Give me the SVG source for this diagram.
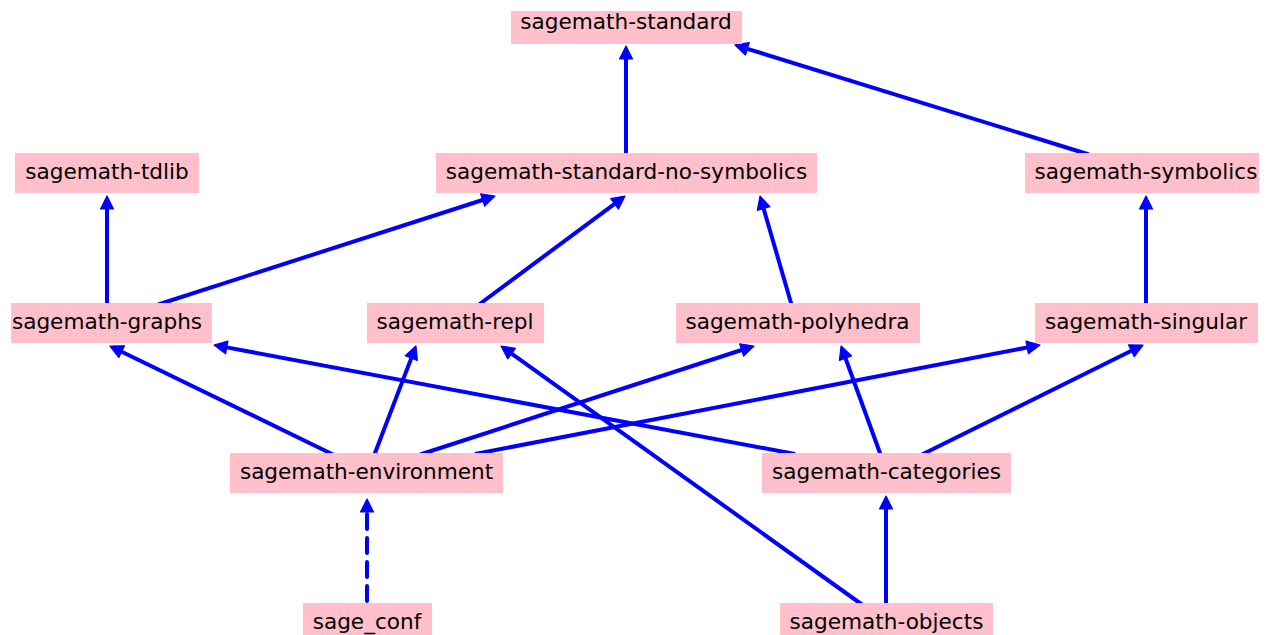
<svg xmlns="http://www.w3.org/2000/svg" width="1270" height="635" viewBox="0 0 1270 635">
<style>
.box{fill:#ffc0cb;stroke:none}
.lbl{font-family:"DejaVu Sans","Noto Sans",sans-serif;font-size:21.6px;fill:#000;text-anchor:middle}
.e{stroke:#0000ff;stroke-width:4;fill:none;marker-end:url(#ah)}
.d{stroke-dasharray:15 9;stroke-linecap:round}
</style>
<defs>
<marker id="ah" markerUnits="userSpaceOnUse" markerWidth="30" markerHeight="30" refX="0" refY="0" orient="auto" overflow="visible" viewBox="-15 -15 30 30">
<path d="M0,-6.5 L13,0 L0,6.5 Z" fill="#0000ff" stroke="#0000ff" stroke-width="1.2" stroke-linejoin="round"/>
</marker>
</defs>
<rect width="1270" height="635" fill="#ffffff"/>
<g id="connectors">
<line class="e" x1="626" y1="160" x2="626" y2="59"/>
<line class="e" x1="1089" y1="154.5" x2="747.4" y2="48.8"/>
<line class="e" x1="107" y1="310" x2="107" y2="209"/>
<line class="e" x1="158.2" y1="304.5" x2="482.6" y2="200"/>
<line class="e" x1="477" y1="306" x2="614.6" y2="203.8"/>
<line class="e" x1="792.4" y1="307.8" x2="763.6" y2="208.5"/>
<line class="e" x1="1146" y1="310" x2="1146" y2="209"/>
<line class="e" x1="334.5" y1="455.2" x2="121.7" y2="351.7"/>
<line class="e" x1="373.2" y1="457.7" x2="411.3" y2="358.1"/>
<line class="e" x1="420.2" y1="454.5" x2="741.6" y2="350"/>
<line class="e" x1="475" y1="454" x2="1027.2" y2="347.5"/>
<line class="e" x1="795" y1="454" x2="226.8" y2="347.4"/>
<line class="e" x1="881.7" y1="457.7" x2="845.5" y2="358.2"/>
<line class="e" x1="920.5" y1="455.2" x2="1131.4" y2="350.8"/>
<line class="e" x1="864" y1="606" x2="511.6" y2="353.6"/>
<line class="e" x1="886" y1="610" x2="886" y2="509"/>
<line class="e d" x1="367" y1="601" x2="367" y2="512"/>
</g>
<g id="sagemath-standard"><rect class="box" x="511" y="11" width="231" height="33"/><text class="lbl" x="626" y="29">sagemath-standard</text></g>
<g id="sagemath-tdlib"><rect class="box" x="15" y="153" width="184" height="40"/><text class="lbl" x="107" y="179">sagemath-tdlib</text></g>
<g id="sagemath-standard-no-symbolics"><rect class="box" x="436" y="153" width="381" height="40"/><text class="lbl" x="626.5" y="179">sagemath-standard-no-symbolics</text></g>
<g id="sagemath-symbolics"><rect class="box" x="1025" y="153" width="234" height="40"/><text class="lbl" x="1146" y="179">sagemath-symbolics</text></g>
<g id="sagemath-graphs"><rect class="box" x="11" y="303" width="201" height="40"/><text class="lbl" x="107" y="329">sagemath-graphs</text></g>
<g id="sagemath-repl"><rect class="box" x="367" y="303" width="177" height="40"/><text class="lbl" x="455" y="329">sagemath-repl</text></g>
<g id="sagemath-polyhedra"><rect class="box" x="676" y="303" width="244" height="40"/><text class="lbl" x="797.5" y="329">sagemath-polyhedra</text></g>
<g id="sagemath-singular"><rect class="box" x="1035" y="303" width="223" height="40"/><text class="lbl" x="1146" y="329">sagemath-singular</text></g>
<g id="sagemath-environment"><rect class="box" x="230" y="453" width="273" height="40"/><text class="lbl" x="366.5" y="479">sagemath-environment</text></g>
<g id="sagemath-categories"><rect class="box" x="762" y="453" width="249" height="40"/><text class="lbl" x="886.5" y="479">sagemath-categories</text></g>
<g id="sage_conf"><rect class="box" x="303" y="603" width="129" height="32"/><text class="lbl" x="367" y="629">sage_conf</text></g>
<g id="sagemath-objects"><rect class="box" x="780" y="603" width="213" height="32"/><text class="lbl" x="886.5" y="629">sagemath-objects</text></g>
</svg>
